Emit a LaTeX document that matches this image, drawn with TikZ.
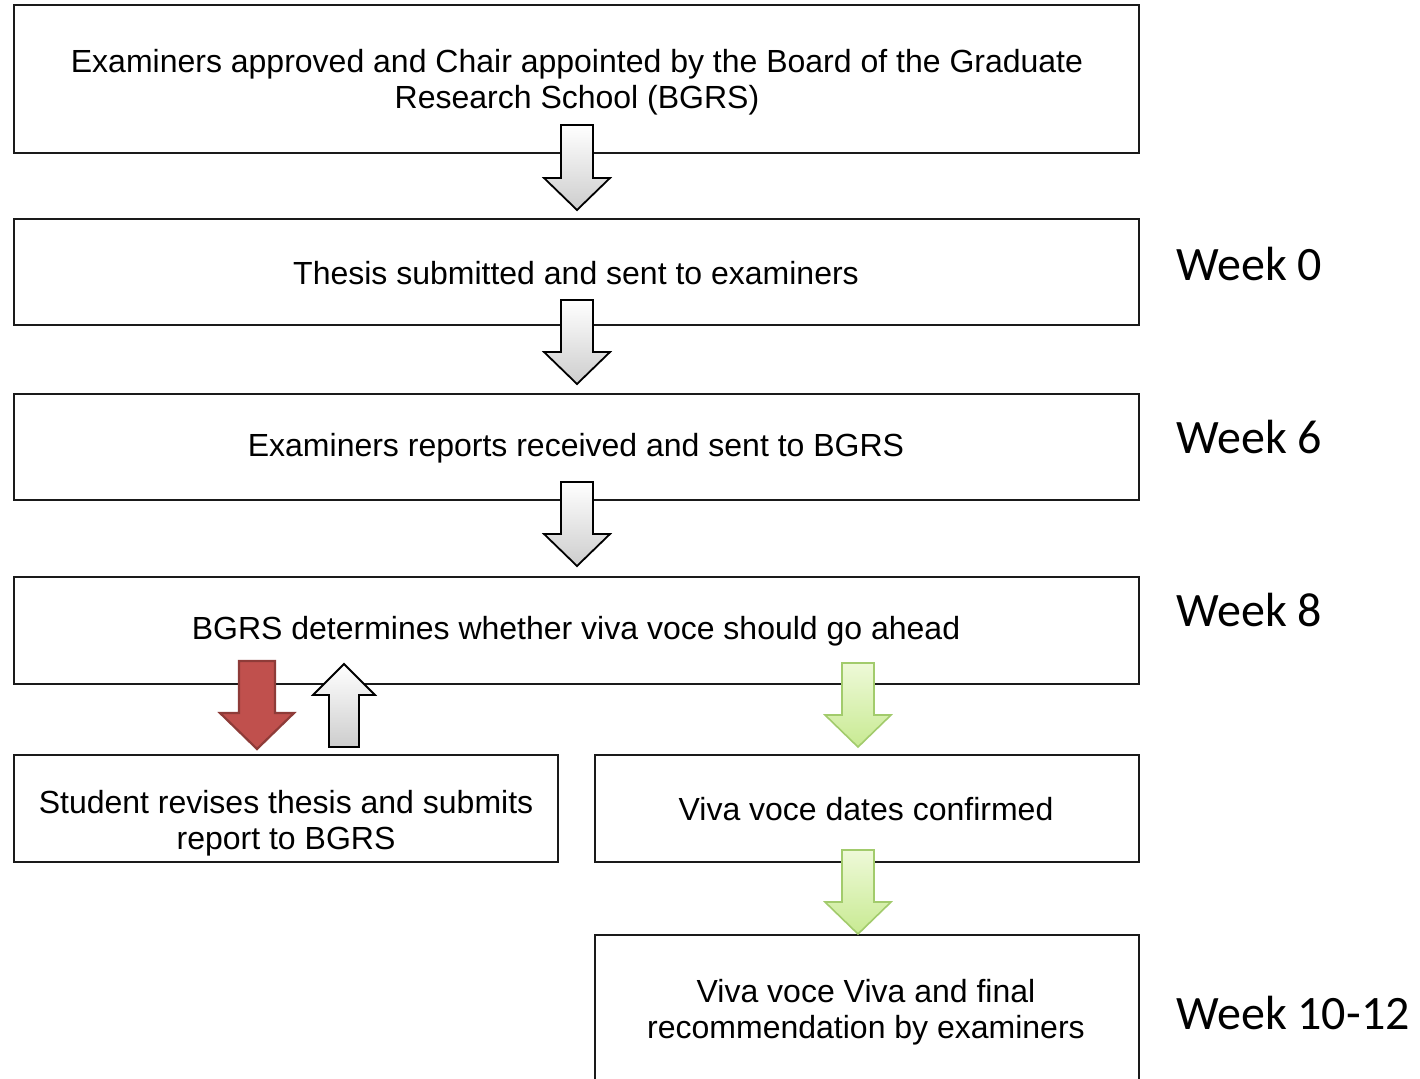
\documentclass[tikz,border=0pt]{standalone}
\usepackage{fontspec}
\setmainfont{Liberation Sans}
\newfontfamily\weekfont{Carlito}
\definecolor{boxline}{HTML}{1A1A1A}
\definecolor{redfill}{HTML}{C0504D}
\definecolor{redline}{HTML}{8E3B38}
\definecolor{greentop}{HTML}{EEF9D8}
\definecolor{greenbot}{HTML}{C8EA92}
\definecolor{greenline}{HTML}{A2CB6C}
\definecolor{graybot}{HTML}{CDCDCD}
\newcommand\blkarrow[7]{%
  \draw[#1] ({#2-#6},#3) -- ({#2+#6},#3) -- ({#2+#6},#4) -- ({#2+#7},#4) -- (#2,#5) -- ({#2-#7},#4) -- ({#2-#6},#4) -- cycle;}
\begin{document}
\begin{tikzpicture}[x=1pt,y=-1pt,
  stepbox/.style={draw=boxline, line width=1.8pt, fill=white},
  steptext/.style={align=center, font=\fontsize{32}{36}\selectfont, inner sep=0pt},
  weeklbl/.style={anchor=west, font=\weekfont\fontsize{48}{52}\selectfont, inner sep=0pt},
  grayarrow/.style={draw=black, line width=1.8pt, top color=white, bottom color=graybot, line join=miter},
  redarrow/.style={draw=redline, line width=2.2pt, fill=redfill, line join=miter},
  greenarrow/.style={draw=greenline, line width=1.6pt, top color=greentop, bottom color=greenbot, line join=miter}]
\clip (0,0) rectangle (1420,1078);
\fill[white] (0,0) rectangle (1420,1078);
% boxes
\draw[stepbox] (14,5) rectangle (1139,153);
\node[steptext] (b1) at (577,82) {Examiners approved and Chair appointed by the Board of the Graduate\\Research School (BGRS)};
\draw[stepbox] (14,219) rectangle (1139,325);
\node[steptext] (b2) at (576,273) {Thesis submitted and sent to examiners};
\draw[stepbox] (14,394) rectangle (1139,500);
\node[steptext] (b3) at (576,448) {Examiners reports received and sent to BGRS};
\draw[stepbox] (14,577) rectangle (1139,684);
\node[steptext] (b4) at (576,631) {BGRS determines whether viva voce should go ahead};
\draw[stepbox] (14,755) rectangle (558,862);
\node[steptext] (b5) at (286,823) {Student revises thesis and submits\\report to BGRS};
\draw[stepbox] (595,755) rectangle (1139,862);
\node[steptext] (b6) at (866,809) {Viva voce dates confirmed};
\draw[stepbox] (595,935) rectangle (1139,1100);
\node[steptext] (b7) at (866,1012) {Viva voce Viva and final\\recommendation by examiners};
% week labels
\node[weeklbl] (w0) at (1176,264) {Week 0};
\node[weeklbl] (w6) at (1176,437) {Week 6};
\node[weeklbl] (w8) at (1176,610) {Week 8};
\node[weeklbl] (w10) at (1176,1013) {Week 10-12};
% arrows
\blkarrow{grayarrow}{577}{125}{178}{210}{16}{33}
\blkarrow{grayarrow}{577}{300}{352}{384}{16}{33}
\blkarrow{grayarrow}{577}{482}{534}{566}{16}{33}
\blkarrow{redarrow}{257}{661}{713}{749}{18}{37}
\blkarrow{grayarrow}{344}{747}{695}{664}{15}{31}
\blkarrow{greenarrow}{858}{663}{715}{747}{16}{33}
\blkarrow{greenarrow}{858}{850}{902}{934}{16}{33}
\end{tikzpicture}
\end{document}
